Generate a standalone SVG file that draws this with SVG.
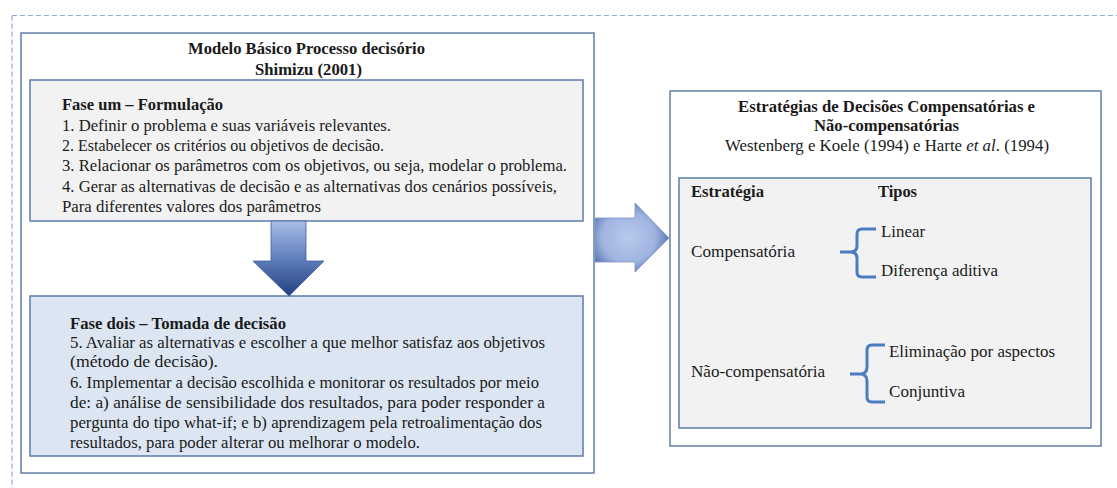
<svg xmlns="http://www.w3.org/2000/svg" width="1117" height="488" viewBox="0 0 1117 488">
<defs>
<style>
.t{font-family:"Liberation Serif","Tinos","Times New Roman",serif;font-size:17px;fill:#1a1a1a}
.b{font-weight:bold}
.outer{fill:#ffffff;stroke:#4a6b9a;stroke-width:1.3}
.inner{stroke:#5b7bab;stroke-width:1.5}
.brace{fill:none;stroke:#4a7cc0;stroke-width:3;stroke-linecap:butt;stroke-linejoin:round}
</style>
<linearGradient id="gDown" x1="0" y1="0" x2="0" y2="1">
<stop offset="0" stop-color="#a9bce4"/>
<stop offset="0.5" stop-color="#5f7fbf"/>
<stop offset="1" stop-color="#243f7f"/>
</linearGradient>
<radialGradient id="gRight" cx="0.45" cy="0.5" r="0.6">
<stop offset="0" stop-color="#b8c9ec"/>
<stop offset="0.6" stop-color="#9fb4e0"/>
<stop offset="1" stop-color="#4d6aa8"/>
</radialGradient>
</defs>
<rect width="1117" height="488" fill="#ffffff"/>
<path d="M12,15.5 H1117 M12,15.5 V488" fill="none" stroke="#8eaad6" stroke-width="1.2" stroke-dasharray="5,3"/>

<g id="left-model">
<rect class="outer" x="21" y="33" width="573" height="440"/>
<text class="t b" x="188" y="54" textLength="237" lengthAdjust="spacingAndGlyphs">Modelo Básico Processo decisório</text>
<text class="t b" x="255" y="75" textLength="107" lengthAdjust="spacingAndGlyphs">Shimizu (2001)</text>
</g>

<g id="fase-um">
<rect class="inner" x="30" y="80" width="553" height="141" fill="#f2f2f2"/>
<text class="t b" x="62" y="110" textLength="161" lengthAdjust="spacingAndGlyphs">Fase um – Formulação</text>
<text class="t" x="62" y="131" textLength="329" lengthAdjust="spacingAndGlyphs">1. Definir o problema e suas variáveis relevantes.</text>
<text class="t" x="62" y="151" textLength="322" lengthAdjust="spacingAndGlyphs">2. Estabelecer os critérios ou objetivos de decisão.</text>
<text class="t" x="62" y="171" textLength="505" lengthAdjust="spacingAndGlyphs">3. Relacionar os parâmetros com os objetivos, ou seja, modelar o problema.</text>
<text class="t" x="62" y="192" textLength="495" lengthAdjust="spacingAndGlyphs">4. Gerar as alternativas de decisão e as alternativas dos cenários possíveis,</text>
<text class="t" x="62" y="212" textLength="259" lengthAdjust="spacingAndGlyphs">Para diferentes valores dos parâmetros</text>
</g>

<g id="fase-dois">
<rect class="inner" x="30" y="296" width="553" height="160" fill="#dce6f2"/>
<text class="t b" x="70" y="329" textLength="216" lengthAdjust="spacingAndGlyphs">Fase dois – Tomada de decisão</text>
<text class="t" x="70" y="348" textLength="475" lengthAdjust="spacingAndGlyphs">5. Avaliar as alternativas e escolher a que melhor satisfaz aos objetivos</text>
<text class="t" x="70" y="367" textLength="148" lengthAdjust="spacingAndGlyphs">(método de decisão).</text>
<text class="t" x="70" y="388" textLength="469" lengthAdjust="spacingAndGlyphs">6. Implementar a decisão escolhida e monitorar os resultados por meio</text>
<text class="t" x="70" y="408" textLength="475" lengthAdjust="spacingAndGlyphs">de: a) análise de sensibilidade dos resultados, para poder responder a</text>
<text class="t" x="70" y="428" textLength="472" lengthAdjust="spacingAndGlyphs">pergunta do tipo what-if; e b) aprendizagem pela retroalimentação dos</text>
<text class="t" x="70" y="448" textLength="350" lengthAdjust="spacingAndGlyphs">resultados, para poder alterar ou melhorar o modelo.</text>
</g>

<g id="estrategias">
<rect class="outer" x="670" y="91" width="431" height="355"/>
<text class="t b" x="738" y="112" textLength="297" lengthAdjust="spacingAndGlyphs">Estratégias de Decisões Compensatórias e</text>
<text class="t b" x="814" y="131" textLength="145" lengthAdjust="spacingAndGlyphs">Não-compensatórias</text>
<text class="t" x="725" y="151" textLength="324" lengthAdjust="spacingAndGlyphs">Westenberg e Koele (1994) e Harte <tspan font-style="italic">et al</tspan>. (1994)</text>
</g>

<g id="tabela">
<rect class="inner" x="679" y="178" width="412" height="250" fill="#f2f2f2"/>
<text class="t b" x="691" y="197" textLength="73" lengthAdjust="spacingAndGlyphs">Estratégia</text>
<text class="t b" x="878" y="197" textLength="39" lengthAdjust="spacingAndGlyphs">Tipos</text>
<text class="t" x="691" y="257" textLength="104" lengthAdjust="spacingAndGlyphs">Compensatória</text>
<text class="t" x="881" y="237" textLength="44" lengthAdjust="spacingAndGlyphs">Linear</text>
<text class="t" x="881" y="276" textLength="117" lengthAdjust="spacingAndGlyphs">Diferença aditiva</text>
<text class="t" x="691" y="377" textLength="134" lengthAdjust="spacingAndGlyphs">Não-compensatória</text>
<text class="t" x="889" y="357" textLength="166" lengthAdjust="spacingAndGlyphs">Eliminação por aspectos</text>
<text class="t" x="889" y="397" textLength="76" lengthAdjust="spacingAndGlyphs">Conjuntiva</text>
</g>

<g id="connectors">
<path d="M271,221 H306 V261 H324 L289,296 L253,261 H271 Z" fill="url(#gDown)" stroke="#3f5f9a" stroke-width="0.8"/>
<path d="M595,218 H635 V203 L669,238 L635,272 V262 H595 Z" fill="url(#gRight)" stroke="#7d96c8" stroke-width="0.8"/>
<path class="brace" d="M876,229 H862 Q857,229 857,234 V246 Q857,252 850,252 H840 M850,252 Q857,252 857,258 V272 Q857,277 862,277 H876"/>
<path class="brace" d="M885,345 H872 Q867,345 867,350 V367 Q867,374 860,374 H850 M860,374 Q867,374 867,381 V397 Q867,402 872,402 H885"/>
</g>
</svg>
